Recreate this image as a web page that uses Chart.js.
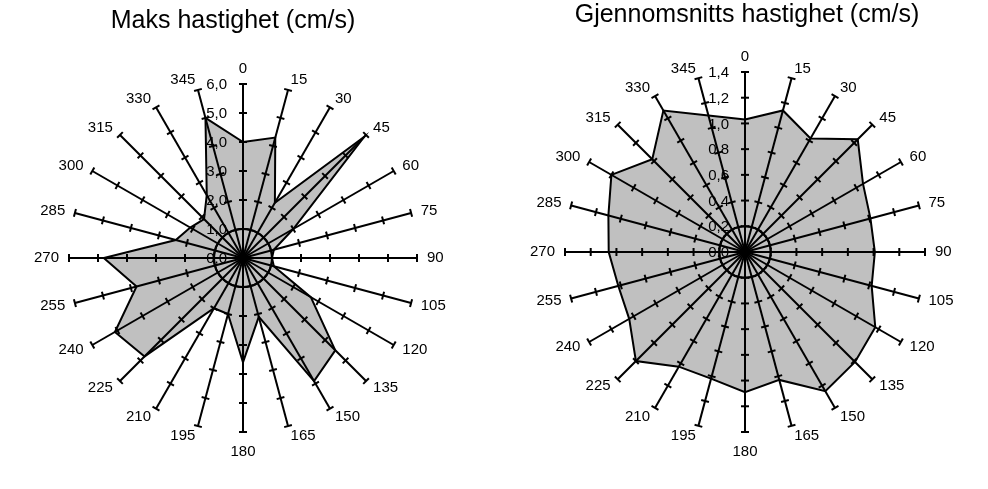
<!DOCTYPE html>
<html>
<head>
<meta charset="utf-8">
<script src="https://cdn.jsdelivr.net/npm/chart.js@4.4.1/dist/chart.umd.min.js"></script>
<style>
  html, body { margin:0; padding:0; background:#fff; }
  #wrap { position:relative; width:988px; height:489px; overflow:hidden; }
  .box { position:absolute; top:0; width:494px; height:489px; }
</style>
</head>
<body>
<div id="wrap">
  <div class="box" style="left:0"><canvas id="c-maks" width="494" height="489"></canvas></div>
  <div class="box" style="left:494px"><canvas id="c-snitt" width="494" height="489"></canvas></div>
</div>
<script>
// Retninger (grader)
const retninger = ["0","15","30","45","60","75","90","105","120","135","150","165",
                   "180","195","210","225","240","255","270","285","300","315","330","345"];

// Maks hastighet (cm/s)
const maksVerdier = [4.0, 4.3, 2.2, 5.9, 2.0, 1.1, 1.0, 1.1, 2.7, 4.5, 4.9, 2.1,
                     3.6, 2.0, 2.0, 4.8, 5.1, 3.8, 4.8, 2.4, 2.1, 1.9, 2.5, 5.0];
const maksSkala = [0, 1, 2, 3, 4, 5, 6];
const maksEtiketter = ["0,0","1,0","2,0","3,0","4,0","5,0","6,0"];

// Gjennomsnitts hastighet (cm/s)
const snittVerdier = [1.03, 1.14, 1.02, 1.24, 1.06, 1.01, 1.01, 1.02, 1.17, 1.21, 1.25, 1.03,
                      1.09, 1.02, 1.03, 1.20, 1.04, 1.02, 1.06, 1.10, 1.20, 1.02, 1.27, 1.10];
const snittSkala = [0, 0.2, 0.4, 0.6, 0.8, 1.0, 1.2, 1.4];
const snittEtiketter = ["0,0","0,2","0,4","0,6","0,8","1,0","1,2","1,4"];

const FONT = "'Liberation Sans', Arial, sans-serif";

// eikene får tverrstreker, etiketter og tittel
const eikePlugin = {
  id: "eiker",
  afterDraw(chart, args, o) {
    const sc = chart.scales.r;
    const ctx = chart.ctx;
    const n = chart.data.labels.length;
    ctx.save();
    ctx.strokeStyle = "#000";
    ctx.lineWidth = 2;
    // tverrstreker på hver eike
    for (let i = 0; i < n; i++) {
      o.skala.forEach((v, k) => {
        if (k === 0) return;
        const p = sc.getPointPositionForValue(i, v);
        const nx = -Math.sin(p.angle), ny = Math.cos(p.angle);
        ctx.beginPath();
        ctx.moveTo(p.x - nx * 4, p.y - ny * 4);
        ctx.lineTo(p.x + nx * 4, p.y + ny * 4);
        ctx.stroke();
      });
    }
    // skalaetiketter langs 0-eika
    ctx.fillStyle = "#000";
    ctx.font = "15px " + FONT;
    ctx.textAlign = "right";
    ctx.textBaseline = "middle";
    o.skala.forEach((v, k) => {
      const p = sc.getPointPositionForValue(0, v);
      ctx.fillText(o.etiketter[k], sc.xCenter - 16, p.y + 1);
    });
    // retningsetiketter
    for (let i = 0; i < n; i++) {
      const a = sc.getIndexAngle(i);
      const s = Math.sin(a), c = Math.cos(a);
      let p;
      if (Math.abs(s) < 0.01) {
        p = sc.getPointPosition(i, sc.drawingArea + (c > 0 ? 8 : 12));
        ctx.textAlign = "center";
        ctx.textBaseline = c > 0 ? "bottom" : "top";
      } else {
        p = sc.getPointPosition(i, sc.drawingArea + 10);
        ctx.textAlign = s > 0 ? "left" : "right";
        ctx.textBaseline = "middle";
      }
      ctx.fillText(chart.data.labels[i], p.x, p.y);
    }
    // tittel
    ctx.font = "25px " + FONT;
    ctx.textAlign = "center";
    ctx.textBaseline = "middle";
    ctx.fillText(o.tittel, o.tx, o.ty);
    ctx.restore();
  }
};

function lagRadar(id, verdier, skala, etiketter, tittel, pad, tx, ty) {
  return new Chart(document.getElementById(id), {
    type: "radar",
    data: {
      labels: retninger,
      datasets: [{
        data: verdier,
        backgroundColor: "#c0c0c0",
        borderColor: "#000",
        borderWidth: 2,
        pointRadius: 0,
        fill: true
      }]
    },
    options: {
      responsive: false,
      animation: false,
      layout: { padding: pad },
      plugins: {
        legend: { display: false },
        tooltip: { enabled: false },
        eiker: { skala, etiketter, tittel, tx, ty }
      },
      scales: {
        r: {
          min: 0,
          max: skala[skala.length - 1],
          ticks: { display: false, stepSize: skala[1] - skala[0], z: 1 },
          pointLabels: { display: false },
          angleLines: { color: "#000", lineWidth: 2 },
          grid: {
            circular: true,
            z: 1,
            lineWidth: 2,
            color: ctx => ctx.index === 1 ? "#000" : "rgba(0,0,0,0)"
          }
        }
      }
    },
    plugins: [eikePlugin]
  });
}

lagRadar("c-maks", maksVerdier, maksSkala, maksEtiketter, "Maks hastighet (cm/s)",
         { left: 69, right: 77, top: 84, bottom: 57 }, 233, 21);
lagRadar("c-snitt", snittVerdier, snittSkala, snittEtiketter, "Gjennomsnitts hastighet (cm/s)",
         { left: 71, right: 63, top: 72, bottom: 57 }, 253, 15);
</script>
</body>
</html>
